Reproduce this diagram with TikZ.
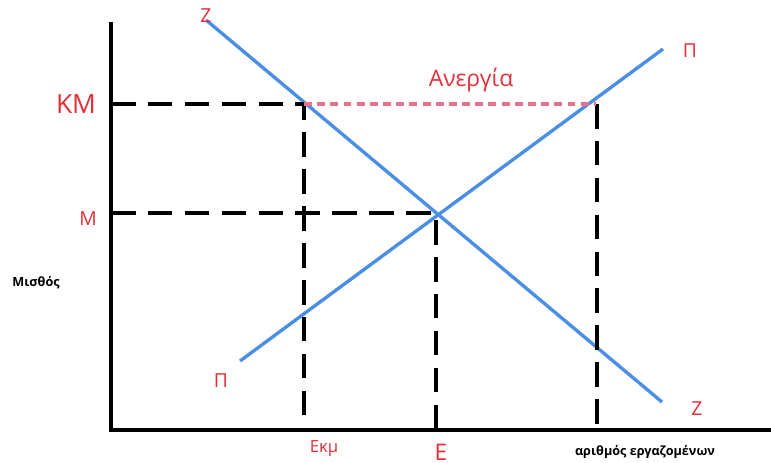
\documentclass[tikz,border=0pt]{standalone}
\usepackage{fontspec}
\setmainfont{Open Sans}
\definecolor{lblred}{HTML}{E03038}
\definecolor{curveblue}{HTML}{4A8EE6}
\definecolor{pinkdash}{HTML}{E8708C}
\begin{document}
\begin{tikzpicture}[x=0.02cm,y=-0.02cm,
  axis/.style={line width=2.3pt,black},
  guide/.style={line width=2.4pt,black,dash pattern=on 14pt off 7pt},
  curve/.style={line width=1.9pt,curveblue},
  gap/.style={line width=1.8pt,pinkdash,dash pattern=on 4.5pt off 3pt},
  lbl/.style={text=lblred,inner sep=0pt},
  axlbl/.style={text=black,inner sep=0pt,font=\bfseries\fontsize{7.2}{8}\selectfont}]
\useasboundingbox (0,0) rectangle (771,463);
% axes
\coordinate (ytop) at (111,22);
\coordinate (orig) at (111,430);
\coordinate (xend) at (771,430);
\draw[axis] (ytop) -- (orig) -- (xend);
% curves
\coordinate (z1) at (206,20);
\coordinate (z2) at (662,402);
\coordinate (p1) at (240,361);
\coordinate (p2) at (663,49);
\draw[curve] (z1) -- (z2);
\draw[curve] (p1) -- (p2);
% key points
\coordinate (A) at (304,104);
\coordinate (B) at (596,104);
\coordinate (C) at (436,213);
\coordinate (kmY) at (111,104);
\coordinate (mY) at (111,213);
\coordinate (aX) at (304,430);
\coordinate (bX) at (597,430);
\coordinate (cX) at (436,430);
\coordinate (Btop) at (597,104);
% guides
\draw[guide] (kmY) -- (A) -- (aX);
\draw[guide] (mY) -- (C) -- (cX);
\draw[guide] (Btop) -- (bX);
\draw[gap] (A) -- (B);
% labels
\node[lbl,font=\fontsize{15}{17}\selectfont] (km) at (76,104) {KM};
\node[lbl,font=\fontsize{11}{13}\selectfont] (m) at (88,219) {M};
\node[lbl,font=\fontsize{11}{13}\selectfont] (zt) at (206,16) {Z};
\node[lbl,font=\fontsize{11}{13}\selectfont] (zb) at (697,409) {Z};
\node[lbl,font=\fontsize{11}{13}\selectfont] (pt) at (690,51) {Π};
\node[lbl,font=\fontsize{11}{13}\selectfont] (pb) at (221,381) {Π};
\node[lbl,font=\fontsize{13}{15}\selectfont] (anerg) at (471,80) {Ανεργία};
\node[lbl,font=\fontsize{9.5}{11}\selectfont] (ekm) at (324,449) {Εκμ};
\node[lbl,font=\fontsize{13}{15}\selectfont] (e) at (441,452) {Ε};
\node[axlbl] (misth) at (36,283) {Μισθός};
\node[axlbl] (arith) at (645,452) {αριθμός εργαζομένων};
\end{tikzpicture}
\end{document}
